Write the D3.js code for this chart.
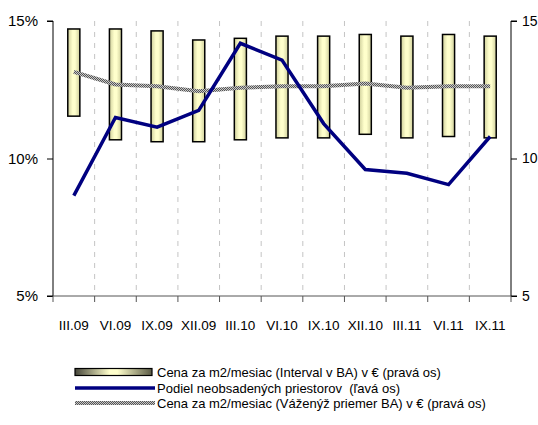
<!DOCTYPE html>
<html>
<head>
<meta charset="utf-8">
<script src="https://cdn.jsdelivr.net/npm/d3@7"></script>
<style>
  body { margin: 0; background: #fff; }
  text { font-family: Arial, "Liberation Sans", sans-serif; fill: #000; }
</style>
</head>
<body>
<svg id="chart" width="538" height="425"></svg>
<script>
const categories = ["III.09", "VI.09", "IX.09", "XII.09", "III.10", "VI.10", "IX.10", "XII.10", "III.11", "VI.11", "IX.11"];
// price per m2 / month interval in BA (right axis)
const priceLow = [11.54, 10.68, 10.61, 10.61, 10.68, 10.75, 10.75, 10.88, 10.75, 10.80, 10.75];
const priceHigh = [14.71, 14.71, 14.64, 14.31, 14.37, 14.45, 14.45, 14.51, 14.45, 14.51, 14.45];
// vacancy share in % (left axis)
const vacancy = [8.65, 11.49, 11.14, 11.75, 14.19, 13.58, 11.27, 9.60, 9.46, 9.05, 10.80];
// weighted average price (right axis)
const avgPrice = [13.15, 12.69, 12.63, 12.45, 12.57, 12.63, 12.63, 12.73, 12.57, 12.63, 12.63];
const leftTicks = [5, 10, 15];
const rightTicks = [5, 10, 15];
const legendLabels = [
  "Cena za m2/mesiac (Interval v BA) v € (pravá os)",
  "Podiel neobsadených priestorov  (ľavá os)",
  "Cena za m2/mesiac (Váženýž priemer BA) v € (pravá os)"
];

const svg = d3.select("#chart");
const margin = { top: 21, right: 27, bottom: 129, left: 53 };
const width = 538 - margin.left - margin.right;
const height = 425 - margin.top - margin.bottom;

const defs = svg.append("defs");

const barGrad = defs.append("linearGradient").attr("id", "barGrad");
barGrad.append("stop").attr("offset", "0%").attr("stop-color", "#cfcf9c");
barGrad.append("stop").attr("offset", "40%").attr("stop-color", "#ffffcc");
barGrad.append("stop").attr("offset", "60%").attr("stop-color", "#ffffcc");
barGrad.append("stop").attr("offset", "100%").attr("stop-color", "#cfcf9c");

const legGrad = defs.append("linearGradient").attr("id", "legGrad");
legGrad.append("stop").attr("offset", "0%").attr("stop-color", "#45453a");
legGrad.append("stop").attr("offset", "45%").attr("stop-color", "#ffffcc");
legGrad.append("stop").attr("offset", "55%").attr("stop-color", "#ffffcc");
legGrad.append("stop").attr("offset", "100%").attr("stop-color", "#5a5a45");

// checkered texture for the average line
const pat = defs.append("pattern")
  .attr("id", "checker")
  .attr("patternUnits", "userSpaceOnUse")
  .attr("width", 2).attr("height", 2);
pat.append("rect").attr("width", 2).attr("height", 2).attr("fill", "#c8c8c8");
pat.append("rect").attr("width", 1).attr("height", 1).attr("fill", "#555");
pat.append("rect").attr("x", 1).attr("y", 1).attr("width", 1).attr("height", 1).attr("fill", "#555");

const g = svg.append("g").attr("transform", `translate(${margin.left},${margin.top})`);

const x = d3.scaleBand().domain(categories).range([0, width]).padding(0);
const yLeft = d3.scaleLinear().domain([5, 15]).range([height, 0]);
const yRight = d3.scaleLinear().domain([5, 15]).range([height, 0]);

// dashed vertical gridlines at category boundaries
g.selectAll(".grid")
  .data(categories.slice(1))
  .enter()
  .append("line")
  .attr("x1", d => x(d)).attr("x2", d => x(d))
  .attr("y1", 0).attr("y2", height)
  .attr("stroke", "#c4c4c4")
  .attr("stroke-width", 1)
  .attr("stroke-dasharray", "5,6");

// interval bars
const barW = x.bandwidth() * 0.29;
g.selectAll(".bar")
  .data(categories)
  .enter()
  .append("rect")
  .attr("x", d => x(d) + x.bandwidth() / 2 - barW / 2)
  .attr("y", (d, i) => yRight(priceHigh[i]))
  .attr("width", barW)
  .attr("height", (d, i) => yRight(priceLow[i]) - yRight(priceHigh[i]))
  .attr("fill", "url(#barGrad)")
  .attr("stroke", "#000")
  .attr("stroke-width", 1.5);

// weighted average line
const avgLine = d3.line()
  .x((d, i) => x(categories[i]) + x.bandwidth() / 2)
  .y(d => yRight(d));
g.append("path")
  .datum(avgPrice)
  .attr("d", avgLine)
  .attr("fill", "none")
  .attr("stroke", "url(#checker)")
  .attr("stroke-width", 4);

// vacancy line
const vacLine = d3.line()
  .x((d, i) => x(categories[i]) + x.bandwidth() / 2)
  .y(d => yLeft(d));
g.append("path")
  .datum(vacancy)
  .attr("d", vacLine)
  .attr("fill", "none")
  .attr("stroke", "#000080")
  .attr("stroke-width", 3.5)
  .attr("stroke-linejoin", "miter");

// left axis
const axL = g.append("g")
  .call(d3.axisLeft(yLeft).tickValues(leftTicks).tickFormat(d => d + "%").tickSize(6).tickPadding(9));
axL.select(".domain").attr("stroke", "#000").attr("d", `M-6,${height}H0V0H-6`);
axL.selectAll(".tick line").attr("stroke", "#000");
axL.selectAll("text").attr("font-size", 15).attr("font-family", null);

// right axis
const axR = g.append("g")
  .attr("transform", `translate(${width},0)`)
  .call(d3.axisRight(yRight).tickValues(rightTicks).tickSize(6).tickPadding(5));
axR.select(".domain").attr("stroke", "#000").attr("d", `M6,${height}H0V0H6`);
axR.selectAll(".tick line").attr("stroke", "#000");
axR.selectAll("text").attr("font-size", 14).attr("font-family", null);

// bottom axis: line, boundary ticks, centered labels
const axB = g.append("g")
  .attr("transform", `translate(0,${height})`)
  .call(d3.axisBottom(x).tickSize(0).tickPadding(24));
axB.select(".domain").attr("stroke", "#555").attr("d", `M0,0H${width}`);
axB.selectAll("text").attr("font-size", 13.5).attr("font-family", null);
axB.selectAll(".bnd")
  .data(categories.concat(["end"]))
  .enter()
  .append("line")
  .attr("x1", (d, i) => i < categories.length ? x(d) : width)
  .attr("x2", (d, i) => i < categories.length ? x(d) : width)
  .attr("y1", 0).attr("y2", 6)
  .attr("stroke", "#555");

// legend
const leg = svg.append("g").attr("transform", "translate(75,0)");
const rowY = [372, 388, 403];
leg.append("rect")
  .attr("x", 0).attr("y", rowY[0] - 3.5)
  .attr("width", 77).attr("height", 7)
  .attr("fill", "url(#legGrad)")
  .attr("stroke", "#000").attr("stroke-width", 1.2);
leg.append("line")
  .attr("x1", 0).attr("x2", 80)
  .attr("y1", rowY[1]).attr("y2", rowY[1])
  .attr("stroke", "#000080").attr("stroke-width", 3.5);
leg.append("line")
  .attr("x1", 0).attr("x2", 80)
  .attr("y1", rowY[2]).attr("y2", rowY[2])
  .attr("stroke", "url(#checker)").attr("stroke-width", 4);
leg.selectAll(".lt")
  .data(legendLabels)
  .enter()
  .append("text")
  .attr("x", 82)
  .attr("y", (d, i) => rowY[i] + 5)
  .attr("font-size", 13)
  .style("white-space", "pre")
  .text(d => d);
</script>
</body>
</html>
